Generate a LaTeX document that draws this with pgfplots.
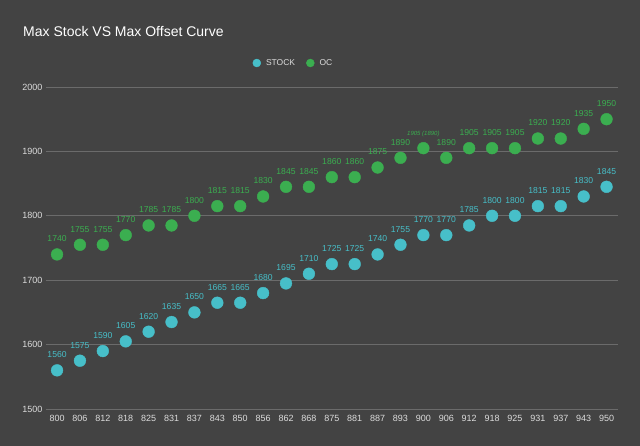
\documentclass[border=0pt]{standalone}
\usepackage{pgfplots}
\pgfplotsset{compat=1.18}
\usepackage{fontspec}
\setmainfont{Liberation Sans}
\definecolor{bg}{HTML}{434343}
\definecolor{gridc}{HTML}{6B6B6B}
\definecolor{tickc}{HTML}{DCDCDC}
\definecolor{stockc}{HTML}{47BFC9}
\definecolor{occ}{HTML}{3BAE50}
\pgfplotsset{/pgfplots/error bars/draw error bar/.code 2 args={\pgfpathmoveto{\pgfpointadd{#1}{\pgfqpoint{0pt}{6.5pt}}}\pgfpathlineto{#2}\pgfusepath{stroke}}}
\begin{document}
\begin{tikzpicture}[x=1pt,y=1pt]
\fill[bg] (0,0) rectangle (640,446);
\node[anchor=west, text=white, font=\fontsize{14}{16}\selectfont, inner sep=0pt] at (23,414.3) {Max Stock VS Max Offset Curve};
\begin{axis}[
  at={(45.6pt,37pt)}, anchor=south west, scale only axis,
  width=572.4pt, height=322pt,
  xmin=-0.5, xmax=24.5, ymin=1500, ymax=2000,
  xtick={0,...,24},
  xticklabels={800,806,812,818,825,831,837,843,850,856,862,868,875,881,887,893,900,906,912,918,925,931,937,943,950},
  ytick={1500,1600,1700,1800,1900,2000},
  ymajorgrids, grid style={color=gridc, line width=0.8pt},
  axis line style={draw=none}, major tick length=0pt,
  tick label style={text=tickc, font=\fontsize{9}{10}\selectfont},
  xticklabel style={anchor=center, yshift=-9.3pt},
  yticklabel style={anchor=east, inner sep=0pt, xshift=-3pt},
  /pgf/number format/assume math mode=true,
  /pgf/number format/1000 sep={},
  clip=false,
  legend columns=2,
  legend cell align=left,
  legend style={at={(0.433,1.0745)}, anchor=center, draw=none, fill=none,
    text=tickc, font=\fontsize{8.5}{10}\selectfont,
    /tikz/every even column/.append style={column sep=9pt}},
]
\addlegendimage{legend image code/.code={\fill[stockc] (0pt,0pt) circle (4pt); \path (7pt,0pt);}}
\addlegendentry{STOCK}
\addlegendimage{legend image code/.code={\fill[occ] (0pt,0pt) circle (4pt); \path (7pt,0pt);}}
\addlegendentry{OC}

\addplot[only marks, mark=*, mark size=5.9pt, color=stockc,
  mark options={draw=none, fill=stockc}, forget plot,
  point meta=explicit symbolic,
  nodes near coords={\pgfplotspointmeta},
  every node near coord/.append style={anchor=base, yshift=12.6pt, text=stockc,
    font=\fontsize{8.6}{10}\selectfont, inner sep=0pt},
  error bars/.cd, y dir=plus, y fixed=18.6, error mark=none,
  error bar style={color=stockc!45!bg, line width=0.5pt}]
coordinates {
(0,1560) [1560] (1,1575) [1575] (2,1590) [1590] (3,1605) [1605] (4,1620) [1620]
(5,1635) [1635] (6,1650) [1650] (7,1665) [1665] (8,1665) [1665] (9,1680) [1680]
(10,1695) [1695] (11,1710) [1710] (12,1725) [1725] (13,1725) [1725] (14,1740) [1740]
(15,1755) [1755] (16,1770) [1770] (17,1770) [1770] (18,1785) [1785] (19,1800) [1800]
(20,1800) [1800] (21,1815) [1815] (22,1815) [1815] (23,1830) [1830] (24,1845) [1845]
};

\addplot[only marks, mark=*, mark size=5.9pt, color=occ,
  mark options={draw=none, fill=occ}, forget plot,
  point meta=explicit symbolic,
  nodes near coords={\pgfplotspointmeta},
  every node near coord/.append style={anchor=base, yshift=12.6pt, text=occ,
    font=\fontsize{8.6}{10}\selectfont, inner sep=0pt},
  error bars/.cd, y dir=plus, y fixed=18.6, error mark=none,
  error bar style={color=occ!45!bg, line width=0.5pt}]
coordinates {
(0,1740) [1740] (1,1755) [1755] (2,1755) [1755] (3,1770) [1770] (4,1785) [1785]
(5,1785) [1785] (6,1800) [1800] (7,1815) [1815] (8,1815) [1815] (9,1830) [1830]
(10,1845) [1845] (11,1845) [1845] (12,1860) [1860] (13,1860) [1860] (14,1875) [1875]
(15,1890) [1890] (16,1905) [{\fontsize{6}{7}\selectfont\itshape 1905 (1890)}] (17,1890) [1890] (18,1905) [1905] (19,1905) [1905]
(20,1905) [1905] (21,1920) [1920] (22,1920) [1920] (23,1935) [1935] (24,1950) [1950]
};
\end{axis}
\pgfresetboundingbox
\path (0,0) rectangle (640,446);
\end{tikzpicture}
\end{document}
